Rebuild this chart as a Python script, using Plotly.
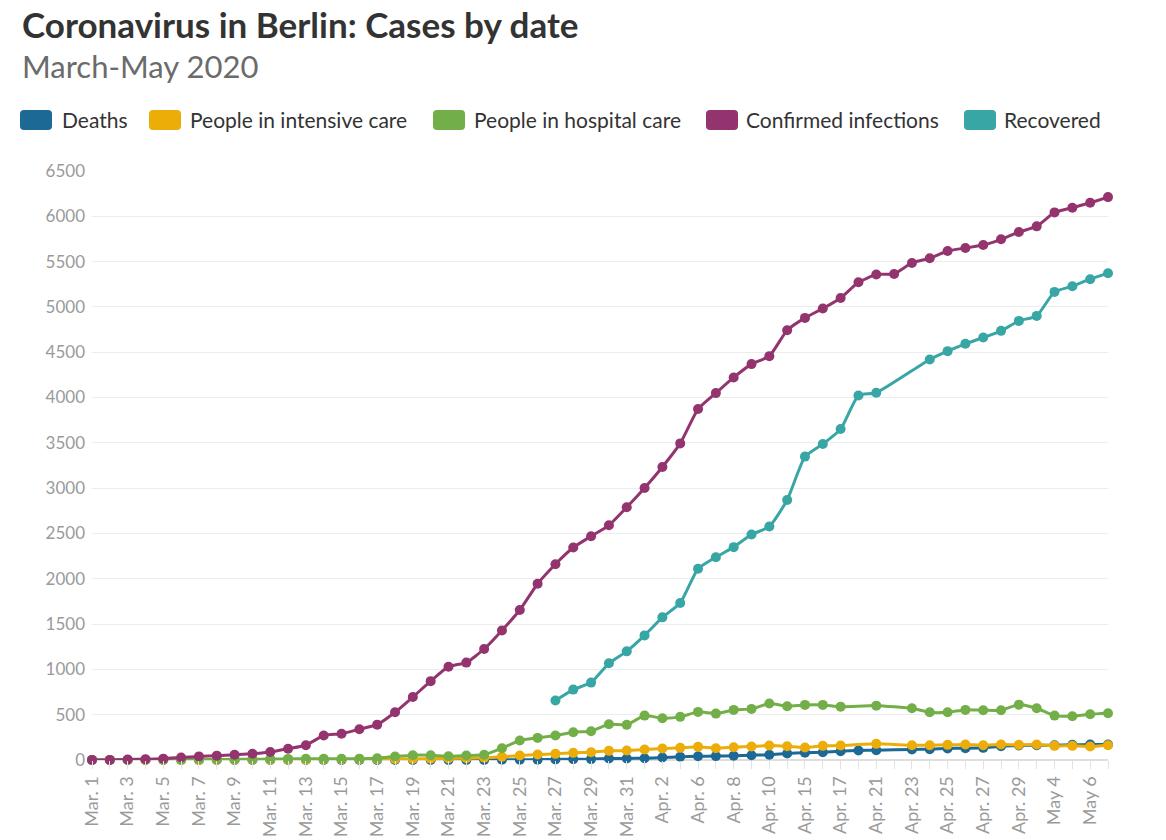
import plotly.graph_objects as go

# categories on the x axis (some days are missing in the source)
dates = ['Mar. 1', 'Mar. 2', 'Mar. 3', 'Mar. 4', 'Mar. 5', 'Mar. 6', 'Mar. 7', 'Mar. 8',
         'Mar. 9', 'Mar. 10', 'Mar. 11', 'Mar. 12', 'Mar. 13', 'Mar. 14', 'Mar. 15', 'Mar. 16',
         'Mar. 17', 'Mar. 18', 'Mar. 19', 'Mar. 20', 'Mar. 21', 'Mar. 22', 'Mar. 23', 'Mar. 24',
         'Mar. 25', 'Mar. 26', 'Mar. 27', 'Mar. 28', 'Mar. 29', 'Mar. 30', 'Mar. 31', 'Apr. 1',
         'Apr. 2', 'Apr. 3', 'Apr. 6', 'Apr. 7', 'Apr. 8', 'Apr. 9', 'Apr. 10', 'Apr. 14',
         'Apr. 15', 'Apr. 16', 'Apr. 17', 'Apr. 20', 'Apr. 21', 'Apr. 22', 'Apr. 23', 'Apr. 24',
         'Apr. 25', 'Apr. 26', 'Apr. 27', 'Apr. 28', 'Apr. 29', 'Apr. 30', 'May 4', 'May 5',
         'May 6', 'May 7']

# labels that are written under the axis
shown_ticks = ['Mar. 1', 'Mar. 3', 'Mar. 5', 'Mar. 7', 'Mar. 9', 'Mar. 11', 'Mar. 13', 'Mar. 15',
               'Mar. 17', 'Mar. 19', 'Mar. 21', 'Mar. 23', 'Mar. 25', 'Mar. 27', 'Mar. 29',
               'Mar. 31', 'Apr. 2', 'Apr. 6', 'Apr. 8', 'Apr. 10', 'Apr. 15', 'Apr. 17',
               'Apr. 21', 'Apr. 23', 'Apr. 25', 'Apr. 27', 'Apr. 29', 'May 4', 'May 6']

deaths = [0, 0, 0, 0, 0, 0, 0, 0, 0, 0, 0, 0, 0, 0, 0, 0, 0, 0, 0, 0, 0, 1, 1, 2, 3, 4, 6, 9,
          10, 16, 17, 20, 27, 35, 42, 43, 46, 53, 57, 72, 81, 86, 97, 105, 108, None, 116, 119,
          127, 130, 134, 152, 160, 163, 163, 167, 171, 171]

intensive = [0, 0, 0, 0, 0, 1, 1, 1, 2, 2, 3, 3, 4, 5, 6, 7, 8, 10, 12, 14, 17, 20, 24, 35,
             50, 61, 68, 79, 86, 101, 105, 116, 127, 134, 145, 130, 141, 149, 160, 152, 138,
             156, 160, None, 178, None, 163, 163, 167, 171, 163, 171, 167, 171, 156, 156, 149, 163]

hospital = [0, 0, 1, 2, 3, 4, 5, 6, 7, 8, 10, 12, 13, 13, 13, 15, 20, 38, 53, 53, 42, 50, 57,
            130, 215, 244, 270, 307, 318, 395, 388, 490, 461, 476, 531, 512, 553, 564, 623, 593,
            608, 608, 589, None, 600, None, 571, 527, 527, 553, 549, 549, 611, 571, 490, 483,
            505, 516]

confirmed = [1, 1, 6, 9, 15, 28, 40, 48, 58, 69, 88, 125, 163, 270, 290, 340, 390, 527, 695,
             870, 1030, 1075, 1225, 1430, 1655, 1945, 2161, 2345, 2470, 2590, 2789, 3002, 3234,
             3494, 3873, 4049, 4222, 4369, 4457, 4743, 4879, 4982, 5099, 5272, 5357, 5364, 5485,
             5537, 5617, 5650, 5683, 5746, 5827, 5889, 6043, 6095, 6150, 6212]

recovered = [None] * 26 + [656, 777, 854, 1067, 1199, 1375, 1574, 1732, 2110, 2238, 2349, 2488,
                           2576, 2870, 3348, 3487, 3652, 4023, 4053, None, None, 4420, 4512,
                           4593, 4662, 4736, 4846, 4901, 5166, 5229, 5306, 5372]

series = [
    ('Deaths', deaths, '#1D6996'),
    ('People in intensive care', intensive, '#EDAD08'),
    ('People in hospital care', hospital, '#73AF48'),
    ('Confirmed infections', confirmed, '#94346E'),
    ('Recovered', recovered, '#38A6A5'),
]

FONT = 'Lato'
W, H = 1166, 840
L, R, T, B = 92, 1108, 171, 760


def px(x):
    return (x - L) / (R - L)


def py(y):
    return (B - y) / (B - T)


def rounded_box(x0, y0, x1, y1, r=4):
    pts = [
        ('M', x0 + r, y0), ('L', x1 - r, y0), ('Q', x1, y0, x1, y0 + r),
        ('L', x1, y1 - r), ('Q', x1, y1, x1 - r, y1), ('L', x0 + r, y1),
        ('Q', x0, y1, x0, y1 - r), ('L', x0, y0 + r), ('Q', x0, y0, x0 + r, y0),
    ]
    out = ''
    for p in pts:
        cmd, vals = p[0], p[1:]
        coords = []
        for i in range(0, len(vals), 2):
            coords.append('%.5f,%.5f' % (px(vals[i]), py(vals[i + 1])))
        out += cmd + ' '.join(coords) + ' '
    return out + 'Z'


fig = go.Figure()
for name, vals, color in series:
    fig.add_trace(go.Scatter(
        x=dates, y=vals, name=name, mode='lines+markers',
        line=dict(color=color, width=3, shape='spline', smoothing=0.5),
        marker=dict(color=color, size=10),
        connectgaps=True, cliponaxis=False, showlegend=False,
    ))

# legend drawn by hand: rounded swatch + label
legend_pos = [(20, 62), (149, 190), (433, 474), (706, 746), (964, 1004)]
shapes = []
annotations = []
for (name, vals, color), (sx, tx) in zip(series, legend_pos):
    shapes.append(dict(type='path', xref='paper', yref='paper',
                       path=rounded_box(sx, 110, sx + 32, 130),
                       fillcolor=color, line=dict(width=0)))
    annotations.append(dict(text=name, x=px(tx - 2), y=py(120), xref='paper', yref='paper',
                            xanchor='left', yanchor='middle', showarrow=False,
                            font=dict(family=FONT, size=21, color='#333333')))

annotations.append(dict(text='<b>Coronavirus in Berlin: Cases by date</b>',
                        x=px(20), y=py(24), xref='paper', yref='paper',
                        xanchor='left', yanchor='middle', showarrow=False,
                        font=dict(family=FONT, size=35, color='#333333')))
annotations.append(dict(text='March-May 2020', x=px(20), y=py(66),
                        xref='paper', yref='paper', xanchor='left', yanchor='middle',
                        showarrow=False, font=dict(family=FONT, size=31, color='#6b6b6b')))

fig.update_layout(
    width=W, height=H,
    margin=dict(l=L, r=W - R, t=T, b=H - B),
    paper_bgcolor='white', plot_bgcolor='white',
    shapes=shapes, annotations=annotations,
    hovermode='x',
    xaxis=dict(
        type='category', categoryorder='array', categoryarray=dates,
        range=[0, len(dates) - 1], automargin=False,
        tickmode='array', tickvals=dates,
        ticktext=[d if d in shown_ticks else '' for d in dates],
        tickangle=-90, ticks='outside', ticklen=8, tickcolor='#e2e2e2',
        showgrid=False, showline=False, zeroline=False,
        tickfont=dict(family=FONT, size=18, color='#9a9a9a'),
    ),
    yaxis=dict(
        range=[0, 6500], tick0=0, dtick=500, automargin=False,
        showgrid=True, gridcolor='#ececec', gridwidth=1,
        zeroline=True, zerolinecolor='#dedede', zerolinewidth=2,
        showline=False, ticks='', ticklabelstandoff=6,
        tickfont=dict(family=FONT, size=17, color='#9a9a9a'),
    ),
)

fig.write_html('out.html', config={'displayModeBar': False},
               post_script="document.body.style.margin='0';")
